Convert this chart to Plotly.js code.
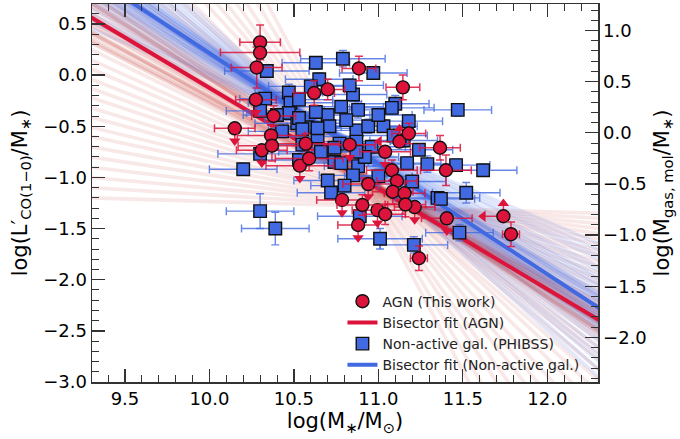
<!DOCTYPE html>
<html><head><meta charset="utf-8">
<script src="https://cdn.plot.ly/plotly-3.0.1.min.js"></script>
<style>html,body{margin:0;padding:0;background:#fff}</style>
</head><body><div id="chart" style="width:680px;height:439px"></div>
<script>
// AGN (This work): flag d = detection, u = upper limit in y, s = lower limit in y & upper limit in x
const agnX    = [10.30,10.30,10.28,10.275,10.38,10.15,10.365,10.37,10.31,10.57,10.59,10.535,10.62,10.70,10.885,11.145,10.83,11.04,11.125,11.18,11.365,11.40,11.08,11.11,10.94,10.785,11.085,11.155,10.905,10.995,11.04,11.16,11.215,10.88,11.405,11.74,11.785,11.24];
const agnY    = [0.32,0.22,0.075,-0.24,-0.40,-0.52,-0.59,-0.69,-0.735,-0.67,-0.815,-0.885,-0.175,-0.14,0.065,-0.12,-0.68,-0.75,-0.65,-0.57,-0.71,-0.93,-0.93,-1.035,-1.065,-1.22,-1.14,-1.155,-1.27,-1.32,-1.36,-1.265,-1.29,-1.465,-1.40,-1.38,-1.555,-1.79];
const agnXerr = [0.12,0.235,0.15,0.12,0.13,0.12,0.2,0.2,0.15,0.2,0.2,0.2,0.12,0.1,0.1,0.1,0.15,0.15,0,0.1,0.12,0.15,0.15,0.12,0.15,0.15,0.12,0.12,0.15,0.15,0.12,0.12,0.12,0.12,0.15,0,0.05,0.05];
const agnYerr = [0.17,0.15,0.2,0,0.1,0,0.1,0.15,0,0.1,0.12,0,0.12,0.1,0.12,0.12,0,0,0,0.1,0.12,0.15,0.1,0.12,0,0,0.12,0.1,0.1,0,0.1,0.12,0,0,0,0,0.12,0.12];
const agnFlag = ['d','d','d','u','d','u','d','d','u','d','d','u','d','d','d','d','u','u','s','d','d','d','d','d','u','u','d','d','d','u','d','d','u','u','u','s','d','d'];

// Non-active galaxies (PHIBSS)
const galX    = [10.34,10.63,10.79,10.65,10.60,10.47,10.48,10.33,10.85,10.78,10.88,10.70,10.63,10.47,10.30,10.52,10.58,10.71,10.87,10.43,10.64,10.77,10.87,10.97,11.10,11.08,11.47,11.18,10.94,11.03,11.09,11.24,10.96,10.30,10.55,10.66,10.74,10.74,10.88,10.85,10.70,10.72,10.30,10.39,10.89,10.92,11.00,11.17,11.29,11.46,11.20,11.52,11.35,11.37,11.48,11.01,11.21,11.62,10.20,10.64,10.53,10.87,10.78,10.55,10.81,11.00,10.53,10.80,10.53,10.40,10.83,11.15];
const galY    = [0.04,0.12,0.16,-0.04,-0.11,-0.17,-0.27,-0.23,-0.19,-0.31,-0.34,-0.39,-0.36,-0.37,-0.35,-0.47,-0.51,-0.50,-0.54,-0.55,-0.60,-0.67,-0.65,0.02,-0.28,-0.32,-0.34,-0.45,-0.50,-0.50,-0.59,-0.73,-0.70,-0.77,-0.68,-0.75,-0.71,-0.85,-0.89,-0.98,-1.03,-1.15,-1.33,-1.50,-1.38,-0.80,-0.99,-0.86,-0.87,-0.88,-1.04,-1.15,-1.20,-1.21,-1.54,-1.60,-1.66,-0.93,-0.92,-0.52,-0.42,-0.75,-0.86,-0.53,-0.44,-0.39,-0.83,-1.08,-0.24,-0.39,-0.10,-0.64];
const galXerr = [0.25,0.2,0.25,0.2,0.25,0.2,0.25,0.15,0.2,0.25,0.2,0.25,0.2,0.25,0.2,0.25,0.2,0.25,0.2,0.2,0.25,0.2,0.2,0.2,0.2,0.25,0.2,0.2,0.2,0.2,0.2,0.2,0.2,0.25,0.2,0.25,0.2,0.2,0.2,0.2,0.2,0.2,0.2,0.2,0.25,0.2,0.2,0.2,0.2,0.2,0.2,0.2,0.25,0.2,0.2,0.25,0.2,0.2,0.2,0.2,0.2,0.2,0.2,0.2,0.2,0.2,0.2,0.2,0.2,0.2,0.2,0.2];
const galYerr = [0.06,0.06,0.08,0.06,0.06,0.08,0.06,0.06,0.07,0.06,0.08,0.06,0.06,0.07,0.06,0.06,0.06,0.08,0.06,0.06,0.06,0.07,0.06,0.06,0.08,0.06,0.06,0.06,0.07,0.06,0.08,0.06,0.06,0.06,0.07,0.06,0.06,0.06,0.07,0.06,0.06,0.06,0.17,0.16,0.06,0.06,0.07,0.06,0.08,0.06,0.06,0.1,0.06,0.06,0.08,0.1,0.08,0.06,0.06,0.06,0.06,0.06,0.06,0.06,0.06,0.06,0.06,0.06,0.06,0.06,0.06,0.06];

// Bisector fits: y = slope * x + intercept
const agnFitSlope = -0.984, agnFitIntercept = 9.715;
const galFitSlope = -1.08,  galFitIntercept = 11.014;

// Bootstrap realisations: slope and value at pivot mass
const agnBootPivot = 10.9;
const agnBootSlope = [-0.98,-1.02,-0.94,-1.06,-0.9,-1.1,-0.96,-1.0,-0.92,-1.04,-0.88,-1.08,-0.86,-1.12,-0.84,-1.15,-0.95,-1.01,-0.93,-1.05,-0.99,-0.97,-1.03,-0.91,-1.07,-0.89,-1.09,-0.87,-1.11,-0.85,
  -0.8,-1.2,-0.75,-1.25,-0.7,-1.3,-0.65,-1.38,-0.6,-1.45,-0.55,-1.55,-0.5,-1.65,-0.45,-1.8,-0.4,-1.95,
  -0.35,-2.1,-0.3,-2.3,-0.25,-2.5,-0.2,-2.8,-0.15,-3.1,-0.1,-0.05];
const agnBootY0 = [-1.0,-0.98,-1.02,-0.99,-1.03,-0.97,-1.01,-1.0,-1.04,-0.96,-1.02,-0.98,-1.05,-0.95,-1.03,-0.97,-0.99,-1.01,-1.0,-0.98,-1.02,-1.0,-0.97,-1.03,-0.99,-1.01,-0.96,-1.04,-0.98,-1.02,
  -1.03,-0.97,-1.05,-0.96,-1.06,-0.95,-1.08,-0.94,-1.09,-0.95,-1.1,-0.93,-1.12,-0.95,-1.13,-0.96,-1.15,-0.97,
  -1.16,-0.98,-1.18,-1.0,-1.2,-1.0,-1.22,-1.02,-1.24,-1.03,-1.26,-1.28];
const galBootPivot = 10.85;
const galBootSlope = [-1.08,-1.04,-1.12,-1.0,-1.16,-0.96,-1.2,-1.06,-1.1,-1.02,-1.14,-0.98,-1.18,-0.94,-1.22,-1.09,-1.07,-1.05,-1.11,-1.13,-1.03,-0.92,-1.25,-0.9,-1.28,-0.87,-1.32,-0.84,-1.36,-0.8,-1.4,-0.77,-1.45,-0.74,-1.5,-0.7,-1.01,-1.15,-0.99,-1.19];
const galBootY0 = [-0.70,-0.69,-0.71,-0.68,-0.72,-0.67,-0.73,-0.70,-0.71,-0.69,-0.70,-0.68,-0.72,-0.67,-0.73,-0.70,-0.71,-0.69,-0.70,-0.72,-0.68,-0.66,-0.74,-0.66,-0.74,-0.65,-0.75,-0.65,-0.76,-0.64,-0.76,-0.64,-0.77,-0.63,-0.77,-0.63,-0.69,-0.71,-0.70,-0.72];

const legendLabels = ['AGN (This work)','Bisector fit (AGN)','Non-active gal. (PHIBSS)','Bisector fit (Non-active gal.)'];

const RED = '#DC143C', BLUE = '#4169E1';
const XR = [9.305, 12.3], YR = [-3.0, 0.695], Y2R = [-2.436, 1.259];
const lineX = [9.0, 12.6];
const F = 'DejaVu Sans';
const traces = [];

agnBootSlope.forEach((s, i) => {
  traces.push({x: lineX, y: lineX.map(x => agnBootY0[i] + s * (x - agnBootPivot)), mode: 'lines',
    line: {color: 'rgba(200,80,70,0.13)', width: 3.6}, showlegend: false, hoverinfo: 'skip'});
});
galBootSlope.forEach((s, i) => {
  traces.push({x: lineX, y: lineX.map(x => galBootY0[i] + s * (x - galBootPivot)), mode: 'lines',
    line: {color: 'rgba(65,105,225,0.15)', width: 3.6}, showlegend: false, hoverinfo: 'skip'});
});
traces.push({x: lineX, y: lineX.map(x => agnFitSlope * x + agnFitIntercept), mode: 'lines',
  line: {color: RED, width: 4}, name: legendLabels[1], legendrank: 2, hoverinfo: 'skip'});
traces.push({x: lineX, y: lineX.map(x => galFitSlope * x + galFitIntercept), mode: 'lines',
  line: {color: BLUE, width: 4}, name: legendLabels[3], legendrank: 4, hoverinfo: 'skip'});

traces.push({x: galX, y: galY, mode: 'markers', name: legendLabels[2], legendrank: 3,
  marker: {symbol: 'square', size: 12.5, color: BLUE, line: {color: '#111', width: 1.4}},
  error_x: {type: 'data', array: galXerr, color: 'rgba(65,105,225,0.8)', thickness: 1.4, width: 4},
  error_y: {type: 'data', array: galYerr, color: 'rgba(65,105,225,0.8)', thickness: 1.4, width: 4}});

function pick(arr, f) { return arr.filter((_, i) => agnFlag[i] === f); }
const arrowLen = 0.125, arrowLenX = 0.12;
const ulX = pick(agnX, 'u'), ulY = pick(agnY, 'u');
const sX = pick(agnX, 's'), sY = pick(agnY, 's');
const errRed = 'rgba(220,20,60,0.85)';

// arrows
traces.push({x: ulX, y: ulY.map(v => v - arrowLen), mode: 'markers', showlegend: false, hoverinfo: 'skip',
  marker: {symbol: 'triangle-down', size: 10, color: RED}});
traces.push({x: sX, y: sY.map(v => v + arrowLen), mode: 'markers', showlegend: false, hoverinfo: 'skip',
  marker: {symbol: 'triangle-up', size: 10, color: RED}});
traces.push({x: sX.map(v => v - arrowLenX), y: sY, mode: 'markers', showlegend: false, hoverinfo: 'skip',
  marker: {symbol: 'triangle-left', size: 10, color: RED}});

traces.push({x: ulX, y: ulY, mode: 'markers', showlegend: false,
  marker: {symbol: 'circle', size: 13, color: RED, line: {color: '#111', width: 1.4}},
  error_x: {type: 'data', array: pick(agnXerr, 'u'), color: errRed, thickness: 1.5, width: 4},
  error_y: {type: 'data', symmetric: false, array: ulY.map(() => 0), arrayminus: ulY.map(() => arrowLen), color: errRed, thickness: 1.5, width: 0}});
traces.push({x: sX, y: sY, mode: 'markers', showlegend: false,
  marker: {symbol: 'circle', size: 13, color: RED, line: {color: '#111', width: 1.4}},
  error_x: {type: 'data', symmetric: false, array: sX.map(() => 0), arrayminus: sX.map(() => arrowLenX), color: errRed, thickness: 1.5, width: 0},
  error_y: {type: 'data', symmetric: false, array: sY.map(() => arrowLen), arrayminus: sY.map(() => 0), color: errRed, thickness: 1.5, width: 0}});
traces.push({x: pick(agnX, 'd'), y: pick(agnY, 'd'), mode: 'markers', name: legendLabels[0], legendrank: 1,
  marker: {symbol: 'circle', size: 13, color: RED, line: {color: '#111', width: 1.4}},
  error_x: {type: 'data', array: pick(agnXerr, 'd'), color: errRed, thickness: 1.5, width: 4},
  error_y: {type: 'data', array: pick(agnYerr, 'd'), color: errRed, thickness: 1.5, width: 4}});

traces.push({x: [], y: [], yaxis: 'y2', showlegend: false, mode: 'markers'});

const axCommon = {
  ticks: 'inside', ticklen: 13, tickwidth: 1.3, tickcolor: '#333',
  showline: true, linecolor: '#333', linewidth: 1.5, showgrid: false, zeroline: false,
  tickformat: '.1f', dtick: 0.5,
  tickfont: {family: F, size: 18, color: '#000'},
  minor: {dtick: 0.1, ticklen: 7, tickwidth: 1, tickcolor: '#333', ticks: 'inside', showgrid: false}
};

const layout = {
  width: 680, height: 439,
  margin: {l: 92, r: 82, t: 4, b: 57},
  paper_bgcolor: '#fff', plot_bgcolor: '#fff',
  showlegend: true,
  legend: {x: 0.495, y: 0.255, xanchor: 'left', yanchor: 'top', bgcolor: 'rgba(0,0,0,0)',
    font: {family: F, size: 14, color: '#222'}, tracegroupgap: 0},
  xaxis: Object.assign({}, axCommon, {range: XR, tick0: 9.5, mirror: 'ticks',
    title: {text: 'log(M<sub>∗</sub>/M<sub>⊙</sub>)', font: {family: F, size: 21, color: '#000'}, standoff: 4}}),
  yaxis: Object.assign({}, axCommon, {range: YR, tick0: 0,
    title: {text: 'log(L′<sub>CO(1−0)</sub>/M<sub>∗</sub>)', font: {family: F, size: 21, color: '#000'}, standoff: 10}}),
  yaxis2: Object.assign({}, axCommon, {range: Y2R, tick0: 0, overlaying: 'y', side: 'right',
    title: {text: 'log(M<sub>gas, mol</sub>/M<sub>∗</sub>)', font: {family: F, size: 21, color: '#000'}, standoff: 8}})
};

Plotly.newPlot('chart', traces, layout, {staticPlot: true, displayModeBar: false});
</script></body></html>
